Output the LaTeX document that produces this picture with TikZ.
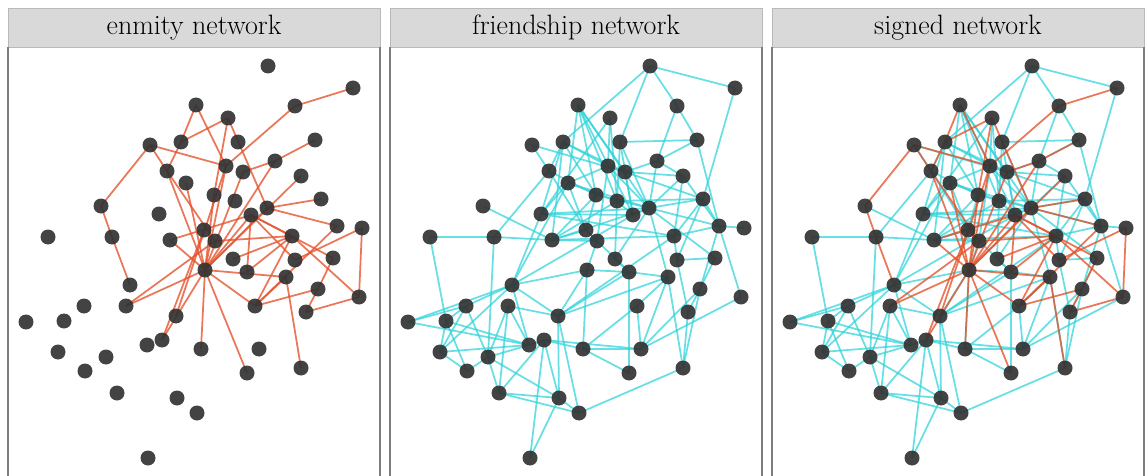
\documentclass[tikz,border=0pt]{standalone}
\definecolor{enmcol}{RGB}{228,82,42}
\definecolor{fricol}{RGB}{45,212,218}
\definecolor{nodecol}{RGB}{51,51,51}
\definecolor{stripcol}{RGB}{217,217,217}
\definecolor{stripline}{RGB}{185,185,185}
\definecolor{framecol}{RGB}{125,125,125}
\pgfdeclarelayer{frames}
\pgfdeclarelayer{edges}
\pgfsetlayers{frames,edges,main}

% vertex positions (shared by all three panels)
\def\vertices{1/268/66,2/353/88,3/196/105,4/228/118,5/295/106,6/150/145,
7/181/142,8/238/142,9/315/140,10/275/161,11/167/171,12/226/166,13/243/172,
14/186/183,15/301/176,16/214/195,17/235/201,18/321/199,19/101/206,20/159/214,
21/267/208,22/251/215,23/48/237,24/112/237,25/170/240,26/204/230,27/215/241,
28/337/226,29/362/228,30/292/236,31/233/259,32/295/260,33/333/258,34/205/270,
35/247/272,36/286/277,37/130/285,38/318/289,39/359/297,40/84/306,41/126/306,
42/255/306,43/306/312,44/26/322,45/64/321,46/176/316,47/162/340,48/147/345,
49/201/349,50/259/349,51/58/352,52/106/357,53/85/371,54/247/373,55/301/368,
56/117/393,57/177/398,58/197/413,59/148/458}

% negative ties
\def\enmity{2/5,5/12,3/7,7/11,3/12,4/7,4/16,4/21,6/12,6/11,6/19,19/24,24/37,
13/10,10/9,10/34,15/34,18/21,12/34,16/34,14/34,11/27,11/34,13/34,25/22,25/34,
41/34,41/27,34/47,12/46,26/47,34/49,34/54,34/42,34/22,34/21,34/36,22/35,22/30,
22/32,27/30,31/30,35/30,42/30,42/38,42/36,42/28,38/33,36/55,39/29,39/43,39/30,
32/29,28/21,22/33,38/43}

% positive ties
\def\friendship{1/2,1/5,1/8,1/7,2/18,5/9,5/10,8/9,9/10,9/28,3/14,3/16,3/17,
3/22,3/13,4/20,4/12,6/11,6/13,7/11,7/25,7/20,7/16,7/13,8/17,8/21,10/13,12/13,
13/15,13/18,12/14,10/15,10/21,11/24,11/26,14/21,17/18,12/27,13/22,15/28,
19/25,23/24,24/25,23/45,24/52,14/26,14/20,14/37,16/21,17/22,17/31,20/22,20/37,
20/30,21/22,21/18,21/15,21/28,21/36,15/30,18/28,18/30,18/32,28/29,28/30,28/39,
28/38,30/32,25/30,25/26,25/27,25/17,25/16,26/27,26/35,27/34,31/35,31/21,32/33,
33/38,33/21,34/35,35/36,35/54,36/42,36/50,36/55,38/50,38/55,39/50,43/55,43/38,
43/32,42/50,49/54,49/50,47/50,49/42,46/36,46/35,46/30,37/22,37/46,37/51,37/48,
37/40,40/44,44/37,44/48,45/48,45/40,45/51,45/53,40/51,40/52,41/46,41/48,41/52,
41/56,46/57,46/58,47/56,47/59,47/57,47/48,47/49,48/52,48/51,52/53,52/57,52/56,
56/57,56/58,57/58,57/59,58/55,51/53,34/37,34/46,34/49,
3/21,7/12,4/17,8/22,11/16,12/21,14/17,16/26,20/21,25/21}

\tikzset{
  vertex/.style={circle,fill=nodecol,fill opacity=0.92,minimum size=15pt,
    inner sep=0pt,draw=none},
  enm/.style={draw=enmcol,line width=1.75pt,opacity=0.78},
  fri/.style={draw=fricol,line width=1.75pt,opacity=0.72},
  strip/.style={fill=stripcol,draw=stripline,line width=0.8pt},
  frame/.style={draw=framecol,line width=1.6pt},
  paneltitle/.style={font=\fontsize{28}{32}\selectfont,inner sep=0pt}
}

% one panel: #1 name prefix, #2 left edge of the frame, #3 shift of the vertices, #4 title
\newcommand\netpanel[4]{%
  \begin{pgfonlayer}{frames}
    \path[fill=white] (#2,47) rectangle ++(372,440);
  \end{pgfonlayer}
  \draw[strip] (#2,8) rectangle ++(372,39);
  \node[paneltitle] (#1title) at (#2+186,27.5) {#4};
  \draw[frame] (#2,47) -- (#2,480);
  \draw[frame] (#2+372,47) -- (#2+372,480);
  \begin{scope}[xshift=#3pt]
    \foreach \i/\x/\y in \vertices {\node[vertex] (#1\i) at (\x,\y) {};}
  \end{scope}
}

% ties of one panel: #1 name prefix, #2 list of pairs, #3 style
\newcommand\netties[3]{%
  \begin{pgfonlayer}{edges}
    \foreach \a/\b in #2 {\draw[#3] (#1\a.center) -- (#1\b.center);}
  \end{pgfonlayer}
}

\begin{document}
\begin{tikzpicture}[x=1pt,y=-1pt]
\begin{pgfonlayer}{frames}
  \fill[white] (0,0) rectangle (1146,476);
\end{pgfonlayer}
\useasboundingbox (0,0) rectangle (1146,476);

\netpanel{A}{8}{0}{enmity network}
\netpanel{B}{390}{382}{friendship network}
\netpanel{C}{772}{764}{signed network}

\netties{A}{\enmity}{enm}
\netties{B}{\friendship}{fri}
\netties{C}{\friendship}{fri}
\netties{C}{\enmity}{enm}
\end{tikzpicture}
\end{document}
